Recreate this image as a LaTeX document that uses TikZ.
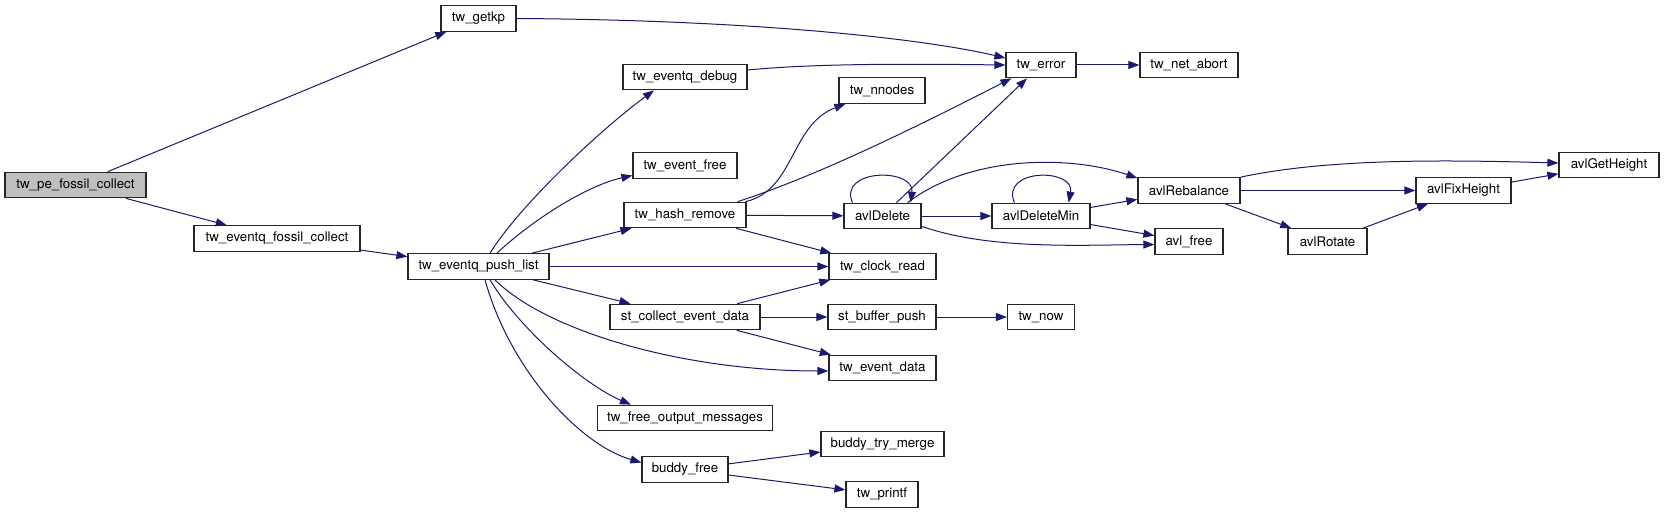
\documentclass[tikz,border=0pt]{standalone}
\usepackage{fontspec}
\setmainfont{TeX Gyre Heros}
\usetikzlibrary{arrows.meta}
\definecolor{callline}{HTML}{191970}
\definecolor{rootfill}{HTML}{BFBFBF}
\tikzset{
  fnbox/.style   = {rectangle, draw=black!85, fill=white, line width=1.2pt,
                    font=\fontsize{13.3}{15}\selectfont, minimum height=25.5pt, inner sep=0pt},
  rootbox/.style = {fnbox, fill=rootfill},
  call/.style    = {-{Triangle[length=11pt,width=8pt]}, line width=1pt, draw=callline},
}
\begin{document}
\begin{tikzpicture}[x=1pt, y=-1pt]
	\useasboundingbox (0,0) rectangle (1664,513);
	\node[rootbox, minimum width=141pt] (pefc)      at (75.5,185)    {tw\_pe\_fossil\_collect};
	\node[fnbox, minimum width=75pt]    (getkp)     at (478.5,18.5)  {tw\_getkp};
	\node[fnbox, minimum width=166pt]   (evfc)      at (277,238.5)   {tw\_eventq\_fossil\_collect};
	\node[fnbox, minimum width=141pt]   (pushl)     at (478.5,266.5) {tw\_eventq\_push\_list};
	\node[fnbox, minimum width=70pt]    (twerror)   at (1041,65)     {tw\_error};
	\node[fnbox, minimum width=98pt]    (netabort)  at (1189,65)     {tw\_net\_abort};
	\node[fnbox, minimum width=124pt]   (evdebug)   at (685,77)      {tw\_eventq\_debug};
	\node[fnbox, minimum width=86pt]    (nnodes)    at (882,90.5)    {tw\_nnodes};
	\node[fnbox, minimum width=104pt]   (evfree)    at (685,165.5)   {tw\_event\_free};
	\node[fnbox, minimum width=122pt]   (hashrm)    at (685,215)     {tw\_hash\_remove};
	\node[fnbox, minimum width=77pt]    (avldel)    at (882.5,216)   {avlDelete};
	\node[fnbox, minimum width=98pt]    (avldelmin) at (1041,216)    {avlDeleteMin};
	\node[fnbox, minimum width=107pt]   (clockread) at (882.5,266.5) {tw\_clock\_read};
	\node[fnbox, minimum width=150pt]   (stcollect) at (685,317)     {st\_collect\_event\_data};
	\node[fnbox, minimum width=108pt]   (bufpush)   at (882,317)     {st\_buffer\_push};
	\node[fnbox, minimum width=67pt]    (twnow)     at (1041,317)    {tw\_now};
	\node[fnbox, minimum width=107pt]   (evdata)    at (882.5,368)   {tw\_event\_data};
	\node[fnbox, minimum width=175pt]   (freeout)   at (685,418)     {tw\_free\_output\_messages};
	\node[fnbox, minimum width=123pt]   (trymerge)  at (882.5,444)   {buddy\_try\_merge};
	\node[fnbox, minimum width=86pt]    (buddyfree) at (685,469.5)   {buddy\_free};
	\node[fnbox, minimum width=72pt]    (printf)    at (882,494.5)   {tw\_printf};
	\node[fnbox, minimum width=100pt]   (avlgeth)   at (1609,165)    {avlGetHeight};
	\node[fnbox, minimum width=102pt]   (avlreb)    at (1189,190.5)  {avlRebalance};
	\node[fnbox, minimum width=95pt]    (avlfixh)   at (1463.5,190.5){avlFixHeight};
	\node[fnbox, minimum width=68pt]    (avlfree)   at (1189,241.5)  {avl\_free};
	\node[fnbox, minimum width=79pt]    (avlrot)    at (1327.5,241.5){avlRotate};
	\foreach \a/\b in {pefc/getkp, pefc/evfc, evfc/pushl, pushl/hashrm, pushl/clockread,
	                   pushl/stcollect, twerror/netabort, hashrm/avldel, hashrm/clockread,
	                   avldel/twerror, avldel/avldelmin, avldelmin/avlreb, avldelmin/avlfree,
	                   avlreb/avlfixh, avlreb/avlrot, avlrot/avlfixh, avlfixh/avlgeth,
	                   stcollect/clockread, stcollect/bufpush, stcollect/evdata, bufpush/twnow,
	                   buddyfree/trymerge, buddyfree/printf}{\draw[call] (\a) -- (\b);}
	\draw[call] (getkp.east) .. controls (750,20) and (920,38) .. ([yshift=7pt]twerror.west);
	\draw[call] ([yshift=7pt]evdebug.east) .. controls (820,63) and (920,64) .. (twerror.west);
	\draw[call] ([xshift=11.5pt]pushl.north) .. controls (520,205) and (600,130) .. ([xshift=-31pt]evdebug.south);
	\draw[call] ([xshift=18.5pt]pushl.north) .. controls (530,222) and (585,186) .. ([yshift=-10pt]evfree.west);
	\draw[call] ([xshift=16.5pt]pushl.south) .. controls (545,330) and (680,371) .. ([yshift=-3pt]evdata.west);
	\draw[call] ([xshift=11.5pt]pushl.south) .. controls (520,330) and (585,385) .. ([xshift=34pt]freeout.north west);
	\draw[call] ([xshift=6.5pt]pushl.south) .. controls (510,370) and (580,445) .. ([yshift=7pt]buddyfree.west);
	\draw[call] ([xshift=-1pt]hashrm.north east) .. controls (795,190) and (790,125) .. ([xshift=7pt]nnodes.south west);
	\draw[call] ([xshift=-9pt]hashrm.north east) .. controls (820,175) and (920,125) .. ([xshift=6pt]twerror.south west);
	\draw[call] ([xshift=9pt]avldel.north west) .. controls (838,168) and (915,168) .. ([xshift=-11pt]avldel.north east);
	\draw[call] ([xshift=23pt]avldelmin.north west) .. controls (1000,168) and (1075,168) .. ([xshift=-22pt]avldelmin.north east);
	\draw[call] ([xshift=-14pt]avldel.north east) .. controls (970,155) and (1070,155) .. ([yshift=-1pt]avlreb.north west);
	\draw[call] ([yshift=3pt]avldel.south east) .. controls (990,250) and (1080,245) .. ([yshift=-3pt]avlfree.west);
	\draw[call] (avlreb.north east) .. controls (1330,158) and (1450,160) .. ([yshift=2pt]avlgeth.west);
\end{tikzpicture}
\end{document}
